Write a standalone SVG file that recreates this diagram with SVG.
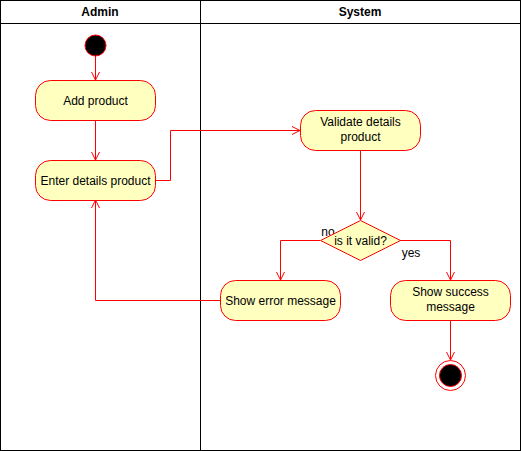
<svg xmlns="http://www.w3.org/2000/svg" width="521" height="451" viewBox="0 0 521 451">
<style>
text{font-family:"Liberation Sans",Arial,sans-serif;font-size:12px;fill:#000;text-anchor:middle}
.hdr{font-weight:bold}
.act{fill:#FFFFC0;stroke:#FF0000;stroke-width:1}
.c{fill:none;stroke:#FF0000;stroke-width:1}
.lane{fill:none;stroke:#000;stroke-width:1}
</style>
<defs>
<marker id="open" viewBox="0 0 10 10" refX="9" refY="5" markerWidth="10" markerHeight="10" markerUnits="userSpaceOnUse" orient="auto">
<path d="M1,1 L9,5 L1,9" fill="none" stroke="#FF0000" stroke-width="1"/>
</marker>
</defs>
<rect width="521" height="451" fill="#fff"/>
<g id="lanes">
<rect class="lane" x="0.5" y="0.5" width="520" height="450"/>
<line class="lane" x1="0.5" y1="23.5" x2="520.5" y2="23.5"/>
<line class="lane" x1="200.5" y1="0.5" x2="200.5" y2="450.5"/>
<text class="hdr" x="100" y="16">Admin</text>
<text class="hdr" x="360" y="16">System</text>
</g>
<g id="connectors">
<path class="c" d="M95.5,56 L95.5,80" marker-end="url(#open)"/>
<path class="c" d="M95.5,120 L95.5,160" marker-end="url(#open)"/>
<path class="c" d="M155,180.5 L170.5,180.5 L170.5,130.5 L300,130.5" marker-end="url(#open)"/>
<path class="c" d="M360.5,150 L360.5,220" marker-end="url(#open)"/>
<path class="c" d="M320,240.5 L280.5,240.5 L280.5,280" marker-end="url(#open)"/>
<path class="c" d="M400,240.5 L450.5,240.5 L450.5,280" marker-end="url(#open)"/>
<path class="c" d="M220,300.5 L95.5,300.5 L95.5,200" marker-end="url(#open)"/>
<path class="c" d="M450.5,320 L450.5,360" marker-end="url(#open)"/>
<text x="328" y="236">no</text>
<text x="411" y="257">yes</text>
</g>
<g id="start">
<circle cx="95.5" cy="45.5" r="10.5" fill="#000" stroke="#FF0000"/>
</g>
<g id="add-product">
<rect class="act" x="35.5" y="80.5" width="120" height="40" rx="15" ry="15"/>
<text x="95.5" y="104.5">Add product</text>
</g>
<g id="enter-details">
<rect class="act" x="35.5" y="160.5" width="120" height="40" rx="15" ry="15"/>
<text x="95.5" y="184.5">Enter details product</text>
</g>
<g id="validate">
<rect class="act" x="300.5" y="110.5" width="120" height="40" rx="15" ry="15"/>
<text x="360.5" y="126">Validate details</text>
<text x="360.5" y="141">product</text>
</g>
<g id="decision">
<path class="act" d="M360.5,220.5 L400.5,240.5 L360.5,260.5 L320.5,240.5 Z"/>
<text x="360.5" y="244.5">is it valid?</text>
</g>
<g id="show-error">
<rect class="act" x="220.5" y="280.5" width="120" height="40" rx="15" ry="15"/>
<text x="280.5" y="304.5">Show error message</text>
</g>
<g id="show-success">
<rect class="act" x="390.5" y="280.5" width="120" height="40" rx="15" ry="15"/>
<text x="450.5" y="296">Show success</text>
<text x="450.5" y="311">message</text>
</g>
<g id="end">
<circle cx="450.5" cy="375.5" r="15" fill="#fff" stroke="#FF0000"/>
<circle cx="450.5" cy="375.5" r="11" fill="#000" stroke="#FF0000"/>
</g>
</svg>
